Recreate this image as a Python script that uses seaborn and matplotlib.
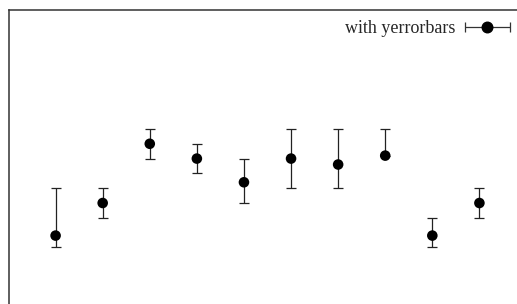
import numpy as np
import pandas as pd
import seaborn as sns
import matplotlib
matplotlib.use("Agg")
import matplotlib.pyplot as plt
from matplotlib.legend_handler import HandlerErrorbar

# data
x = [1, 2, 3, 4, 5, 6, 7, 8, 9, 10]
y = [0.8, 3.0, 7.0, 6.0, 4.4, 6.0, 5.6, 6.2, 0.8, 3.0]
y_low = [0.0, 2.0, 6.0, 5.0, 3.0, 4.0, 4.0, 6.2, 0.0, 2.0]
y_high = [4.0, 4.0, 8.0, 7.0, 6.0, 8.0, 8.0, 8.0, 2.0, 4.0]
label = "with yerrorbars"

sns.set_style("white")
plt.rcParams['font.family'] = ['Liberation Serif', 'DejaVu Serif']

df = pd.DataFrame({"x": x, "y": y, "lo": y_low, "hi": y_high})

fig = plt.figure(figsize=(5.17, 3.04), dpi=100)
ax = fig.add_axes([8.5 / 517, -0.0088, 518 / 517, 0.9743])

yerr = np.array([df["y"] - df["lo"], df["hi"] - df["y"]])
ax.errorbar(df["x"], df["y"], yerr=yerr, fmt="none", ecolor="#222222",
            elinewidth=0.9, capsize=3.5, capthick=0.9, zorder=2)
sns.scatterplot(data=df, x="x", y="y", ax=ax, color="black", s=58,
                edgecolor="none", zorder=3, legend=False)

# dummy handle so the legend shows a horizontal error bar
h = ax.errorbar([np.nan], [np.nan], xerr=[[1], [1]], fmt="o", color="black",
                ecolor="#333333", elinewidth=0.9, capsize=3.5, capthick=0.9,
                markersize=7.6, label=label)

ax.set_xlim(0, 11)
ax.set_ylim(-4, 16)
ax.set_xticks([])
ax.set_yticks([])
ax.set_xlabel("")
ax.set_ylabel("")
for side in ["left", "top"]:
    ax.spines[side].set_color("#333333")
    ax.spines[side].set_linewidth(1.1)
ax.spines["right"].set_visible(False)
ax.spines["bottom"].set_visible(False)

fig.legend(handles=[h], labels=[label], loc="center right",
           bbox_to_anchor=(510 / 517, 1 - 28.7 / 304), frameon=False,
           markerfirst=False, fontsize=13, handlelength=2.5,
           handletextpad=0.55, borderaxespad=0, borderpad=0,
           handler_map={type(h): HandlerErrorbar(xerr_size=1.25)})

fig.savefig("out.png", dpi=100)
